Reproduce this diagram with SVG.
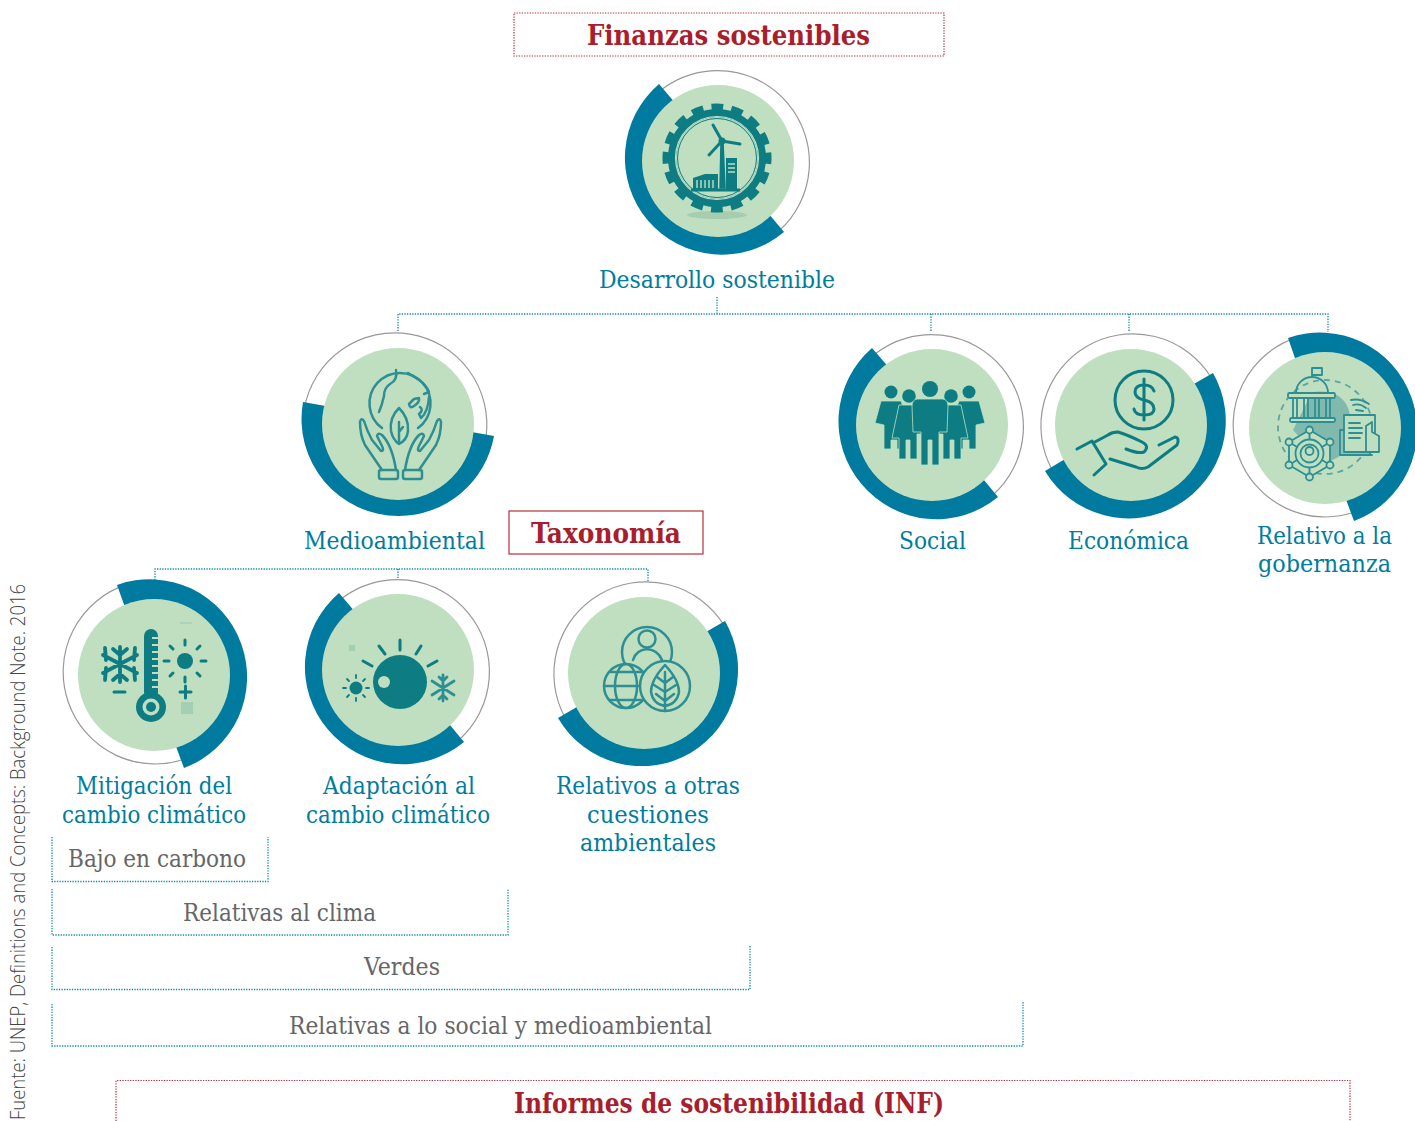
<svg xmlns="http://www.w3.org/2000/svg" width="1415" height="1121" viewBox="0 0 1415 1121">
<style>
.t{font-family:"DejaVu Serif Condensed","DejaVu Serif",serif;font-stretch:condensed;font-size:24px;fill:#007c9e}
.g{font-family:"DejaVu Serif Condensed","DejaVu Serif",serif;font-stretch:condensed;font-size:24px;fill:#666}
.h{font-family:"DejaVu Serif Condensed","DejaVu Serif",serif;font-stretch:condensed;font-weight:bold;font-size:27px;fill:#a91e2c}
.s{font-family:"Open Sans","Noto Sans",sans-serif;font-weight:300;font-size:20px;fill:#444}
.ring{fill:none;stroke:#999;stroke-width:1.200}
.pie{fill:#007a9f}
.disc{fill:#bfdfc0}
.ln{fill:none;stroke:#2f8f93;stroke-width:2.500;stroke-linecap:round;stroke-linejoin:round}
.ld{fill:none;stroke:#0b7c83;stroke-width:3;stroke-linecap:round;stroke-linejoin:round}
.f{fill:#0b7c83}
.p{fill:#0b7c83;stroke:#bfdfc0;stroke-width:0.800}
.dot{fill:none;stroke:#0f8aa8;stroke-width:1.300;stroke-dasharray:1.300 1.300}
.red{fill:none;stroke:#b5303a;stroke-width:1.200;stroke-dasharray:1.300 1.300}
</style>
<defs><filter id="b" x="-10%" y="-10%" width="120%" height="120%"><feGaussianBlur stdDeviation="0.5"/></filter></defs>

<g id="connectors">
<path class="dot" d="M398 331V314H1328V332M717 297V314M931 314V332M1129 314V332"/>
<path class="dot" d="M155 580V569H648V582M398 569V580"/>
</g>

<g id="box-finanzas"><rect class="red" x="514" y="13" width="430" height="43"/><text class="h" x="587" y="45" textLength="283" lengthAdjust="spacingAndGlyphs">Finanzas sostenibles</text></g>

<g id="node-desarrollo">
<path class="ring" d="M661.600 89.500A92 92 0 0 1 779.200 230.800"/>
<path class="pie" d="M722 158L659 84A97 97 0 0 0 647.700 220.300A97 97 0 0 0 784 232Z"/>
<circle class="disc" cx="718" cy="161" r="76"/>
<g filter="url(#b)">
<ellipse cx="717" cy="215" rx="30" ry="4" fill="#a6cdb0"/>
<circle cx="717" cy="158" r="50" fill="none" stroke="#0b7c83" stroke-width="9" stroke-dasharray="11.500 8.130" stroke-dashoffset="5.750"/>
<circle cx="717" cy="158" r="45" fill="none" stroke="#0b7c83" stroke-width="8"/>
<circle cx="717" cy="158" r="39.500" fill="none" stroke="#0b7c83" stroke-width="1"/>
<circle cx="717" cy="158" r="41.500" fill="none" stroke="#bfdfc0" stroke-width="1.200"/>
<path d="M720 188L721 142H723L725 188Z" class="f" stroke="#0b7c83" stroke-width="1.500"/>
<path class="ld" d="M722 141L713 125M722 141L740 144M722 141L709 155"/>
<circle class="f" cx="722" cy="141" r="3.500"/>
<path class="f" d="M693 178L705 174H718V190H693ZM726 158H737V190H726Z"/>
<path d="M697 180V188M701 180V188M705 180V188M709 180V188M713 180V188" stroke="#bfdfc0" stroke-width="1.400"/>
<path d="M728 164H735M728 168H735M728 172H735" stroke="#bfdfc0" stroke-width="1.500"/>
<path d="M691 190H740" stroke="#0b7c83" stroke-width="3"/>
</g>
<text class="t" x="599" y="288" textLength="236" lengthAdjust="spacingAndGlyphs">Desarrollo sostenible</text>
</g>

<g id="node-medioambiental">
<path class="ring" d="M304.400 408A92 92 0 0 1 485.900 438"/>
<path class="pie" d="M399 419L303 402A97 97 0 0 0 399 516A97 97 0 0 0 494 436Z"/>
<circle class="disc" cx="398" cy="424" r="76"/>
<g filter="url(#b)">
<path class="ln" d="M382 428A30.500 30.500 0 1 1 418 428"/>
<path class="ln" d="M396 370Q398 380 390 384Q384 388 384 396Q382 405 379 412M408 373L416 378Q426 384 429 392L424 394M429 397Q428 412 421 418L419 414Q424 410 420 407M409 404L414 399L419 398Q420 402 414 406Q410 409 409 404"/>
<path class="ln" d="M399 408Q389 418 391 431Q393 440 399 444Q407 440 408 431Q409 418 399 408ZM399 422V444M399 432L403 427"/>
<g id="hand"><path class="ln" d="M382 470L365 445Q360 435 360 422Q361 417 364 421Q367 431 372 440L381 451Q385 451 381 444L377 436Q378 432 382 435Q392 445 396 470"/><rect class="ln" x="379" y="470" width="19" height="9" rx="2"/></g>
<use href="#hand" transform="translate(801 0) scale(-1 1)"/>
</g>
<text class="t" x="304" y="549" textLength="181" lengthAdjust="spacingAndGlyphs">Medioambiental</text>
</g>

<g id="box-taxonomia"><rect x="509" y="511" width="194" height="43" fill="none" stroke="#b5303a" stroke-width="1.200"/><text class="h" x="531" y="543" textLength="150" lengthAdjust="spacingAndGlyphs">Taxonomía</text></g>

<g id="node-social">
<path class="ring" d="M875.600 353.500A92 92 0 0 1 993.200 494.800"/>
<path class="pie" d="M936 422L872 348A97 97 0 0 0 861.700 484.300A97 97 0 0 0 998 497Z"/>
<circle class="disc" cx="932" cy="425" r="76"/>
<g filter="url(#b)">
<g id="pf2"><circle class="f" cx="891" cy="392" r="6.500"/><path class="p" d="M881 401H901L908 420L905 425V449H897V440H891V449H884V425L875 423Z"/></g>
<use href="#pf2" transform="translate(1860 0) scale(-1 1)"/>
<g id="pf1"><circle class="f" cx="909" cy="396" r="6.800"/><path class="p" d="M899 405H919L925 434H917V459H910V440H906V459H899V438H892Z"/></g>
<use href="#pf1" transform="translate(1860 0) scale(-1 1)"/>
<circle class="f" cx="930" cy="389" r="8"/>
<path class="p" d="M917 399H943Q948 400 948 406L947 432H939V465H932V440H928V465H921V432H913L912 406Q912 400 917 399Z"/>
</g>
<text class="t" x="899" y="549" textLength="67" lengthAdjust="spacingAndGlyphs">Social</text>
</g>

<g id="node-economica">
<path class="ring" d="M1052.200 470A92 92 0 0 1 1211 377.200"/>
<path class="pie" d="M1129 421L1213 373A97 97 0 0 1 1177.500 505A97 97 0 0 1 1045 471Z"/>
<circle class="disc" cx="1131" cy="425" r="76"/>
<g filter="url(#b)">
<circle class="ld" cx="1144" cy="400" r="29"/>
<path class="ld" d="M1154 391Q1152 385 1144 385Q1135 385 1135 392Q1135 398 1144 400Q1154 402 1154 409Q1154 415 1144 415Q1135 415 1134 409M1144 379V420"/>
<path class="ld" d="M1077 449L1092 441L1106 464L1094 475M1093 443L1108 435Q1112 432 1118 432Q1128 435 1142 442Q1150 446 1144 452Q1138 454 1126 449M1159 445L1175 437Q1180 438 1177 445L1148 467Q1142 470 1136 467L1110 459"/>
</g>
<text class="t" x="1068" y="549" textLength="121" lengthAdjust="spacingAndGlyphs">Económica</text>
</g>

<g id="node-gobernanza">
<path class="ring" d="M1357 511.300A92 92 0 1 1 1297 337.400"/>
<path class="pie" d="M1320 430L1288 338A97 97 0 0 1 1411.200 396.800A97 97 0 0 1 1354 521Z"/>
<circle class="disc" cx="1325" cy="428" r="76"/>
<g filter="url(#b)">
<path d="M1312 392Q1345 388 1350 415V440Q1345 460 1322 462L1293 430Z" fill="#82b9ad"/>
<circle cx="1325" cy="427" r="47" fill="none" stroke="#5ba5a0" stroke-width="1.800" stroke-dasharray="6 5"/>
<g class="ln" style="stroke-width:1.800">
<path d="M1312 377V368H1322V375H1312M1296 393A16 16 0 0 1 1328 393"/>
<rect x="1288" y="393" width="47" height="5" rx="1.500" fill="#bfdfc0"/>
<rect x="1290" y="418" width="45" height="4" rx="1.500" fill="#bfdfc0"/>
<path d="M1293 398V418M1297 398V418M1304 398V418M1308 398V418M1315 398V418M1319 398V418M1326 398V418M1330 398V418"/>
<path d="M1309.500 430L1330 442V465L1309.500 477L1289 465V442Z" fill="#bfdfc0"/>
<path d="M1309.500 430V439M1330 442L1322 447M1330 465L1322 460M1309.500 477V468M1289 465L1297 460M1289 442L1297 447"/>
<circle cx="1309.500" cy="453.500" r="14"/>
<circle cx="1309.500" cy="453.500" r="9"/>
<circle cx="1309.500" cy="451" r="4"/>
<path d="M1351 400Q1360 398 1369 404M1353 405Q1360 403 1366 408M1356 410L1363 411"/>
<rect x="1340" y="430" width="30" height="25" fill="#8fc2b4"/>
<rect x="1344" y="415" width="31" height="37" fill="#bfdfc0"/>
<path d="M1349 423H1360M1349 428H1362M1349 433H1362M1349 438H1360M1340 455H1372"/>
<path d="M1366 426L1372 422V432L1379 436V452H1366Z" fill="#bfdfc0"/>
</g>
<g style="fill:#bfdfc0;stroke:#2f8f93;stroke-width:1.800"><circle cx="1309.500" cy="430" r="3.500"/><circle cx="1330" cy="442" r="3.500"/><circle cx="1330" cy="465" r="3.500"/><circle cx="1309.500" cy="477" r="3.500"/><circle cx="1289" cy="465" r="3.500"/><circle cx="1289" cy="442" r="3.500"/></g>
</g>
<text class="t" x="1257" y="544" textLength="135" lengthAdjust="spacingAndGlyphs">Relativo a la</text>
<text class="t" x="1258" y="572" textLength="133" lengthAdjust="spacingAndGlyphs">gobernanza</text>
</g>

<g id="node-mitigacion">
<path class="ring" d="M187 758.300A92 92 0 1 1 127 584.400"/>
<path class="pie" d="M150 677L117 585A97 97 0 0 1 241.200 643.800A97 97 0 0 1 184 768Z"/>
<circle class="disc" cx="154" cy="675" r="76"/>
<g filter="url(#b)">
<rect class="f" x="144" y="629" width="14" height="70" rx="7"/>
<circle class="f" cx="151" cy="707" r="15"/>
<circle cx="151" cy="707" r="8.500" fill="#bfdfc0"/><circle class="f" cx="151" cy="707" r="5"/>
<path d="M152 638H159M152 645H159M152 652H159M152 659H159M152 666H159M152 673H159M152 680H159M152 687H159" stroke="#bfdfc0" stroke-width="2"/>
<path class="ld" style="stroke-width:3.800" d="M120 647V682M103 655L137 673M137 655L103 673M113 649L120 655L127 649M113 680L120 674L127 680M105 648L106 660M135 648L134 660M105 680L106 668M135 680L134 668"/>
<path class="ld" d="M114 692H125M180 692H191M185.500 686V698"/>
<circle class="f" cx="185" cy="661" r="8"/>
<path class="ld" d="M185 640V645M185 677V682M164 661H169M201 661H206M170 646L173 649M200 646L197 649M170 676L173 673M200 676L197 673"/>
<rect x="181" y="702" width="12" height="12" fill="#a5cfb5"/>
<path d="M180 623H192" stroke="#a5cfb5" stroke-width="1.500"/>
</g>
<text class="t" x="76" y="794" textLength="156" lengthAdjust="spacingAndGlyphs">Mitigación del</text>
<text class="t" x="62" y="823" textLength="184" lengthAdjust="spacingAndGlyphs">cambio climático</text>
</g>

<g id="node-adaptacion">
<path class="ring" d="M341.600 598.500A92 92 0 0 1 459.200 739.800"/>
<path class="pie" d="M402 667L339 593A97 97 0 0 0 327.700 729.300A97 97 0 0 0 464 742Z"/>
<circle class="disc" cx="398" cy="670" r="76"/>
<g filter="url(#b)">
<circle class="f" cx="400" cy="682" r="27"/>
<circle cx="384" cy="682" r="6" fill="#bfdfc0"/>
<path class="ld" d="M400 640V650M379 646L385 654M421 646L416 654M363 661L372 666M437 661L428 666"/>
<circle class="f" cx="356" cy="688" r="6.500"/>
<path class="ld" style="stroke-width:1.800" d="M356 675V678M356 698V701M343 688H346M366 688H369M347 679L349 681M365 679L363 681M347 697L349 695M365 697L363 695"/>
<path class="ld" style="stroke-width:2.800;stroke:#2f8f93" d="M443 675V701M432 681L454 695M454 681L432 695M439 677L443 681L447 677M439 699L443 695L447 699"/>
<rect x="349" y="645" width="6" height="6" fill="#a5cfb5"/>
</g>
<text class="t" x="323" y="794" textLength="152" lengthAdjust="spacingAndGlyphs">Adaptación al</text>
<text class="t" x="306" y="823" textLength="184" lengthAdjust="spacingAndGlyphs">cambio climático</text>
</g>

<g id="node-relativos">
<path class="ring" d="M565.200 718A92 92 0 0 1 724 625.200"/>
<path class="pie" d="M642 669L725 621A97 97 0 0 1 690.500 753A97 97 0 0 1 558 718Z"/>
<circle class="disc" cx="644" cy="673" r="76"/>
<g filter="url(#b)">
<circle class="ln" cx="647" cy="652" r="25"/>
<circle class="ln" cx="647" cy="639" r="8.500"/>
<path class="ln" d="M633 660Q636 650 647 649Q658 650 662 660"/>
<circle class="ln" cx="626" cy="686" r="22" style="fill:#bfdfc0"/>
<ellipse class="ln" cx="626" cy="686" rx="11" ry="22"/>
<path class="ln" d="M604 686H648M609 672H643M609 700H643"/>
<circle class="ln" cx="665" cy="686" r="25" style="fill:#bfdfc0"/>
<path class="ln" d="M665 665Q651 680 651 692Q653 704 665 706Q677 704 679 692Q679 680 665 665ZM665 672V711M665 683L657 677M665 683L673 677M665 692L654 685M665 692L676 685M665 701L656 694M665 701L674 694"/>
</g>
<text class="t" x="556" y="794" textLength="184" lengthAdjust="spacingAndGlyphs">Relativos a otras</text>
<text class="t" x="587" y="823" textLength="122" lengthAdjust="spacingAndGlyphs">cuestiones</text>
<text class="t" x="580" y="851" textLength="136" lengthAdjust="spacingAndGlyphs">ambientales</text>
</g>

<g id="bracket-bajo"><path class="dot" d="M52 837V881.500H268V837"/><text class="g" x="68" y="867" textLength="178" lengthAdjust="spacingAndGlyphs">Bajo en carbono</text></g>
<g id="bracket-clima"><path class="dot" d="M52 889V935H508V889"/><text class="g" x="183" y="921" textLength="193" lengthAdjust="spacingAndGlyphs">Relativas al clima</text></g>
<g id="bracket-verdes"><path class="dot" d="M52 947V989.500H750V945"/><text class="g" x="364" y="975" textLength="76" lengthAdjust="spacingAndGlyphs">Verdes</text></g>
<g id="bracket-social"><path class="dot" d="M52 1004V1046H1023V1001"/><text class="g" x="289" y="1034" textLength="423" lengthAdjust="spacingAndGlyphs">Relativas a lo social y medioambiental</text></g>

<g id="box-informes"><path class="red" d="M116 1121V1080.500H1350V1121"/><text class="h" x="514" y="1113" textLength="430" lengthAdjust="spacingAndGlyphs">Informes de sostenibilidad (INF)</text></g>

<g id="source"><text class="s" transform="translate(25 1120) rotate(-90)" textLength="536" lengthAdjust="spacingAndGlyphs">Fuente: UNEP, Definitions and Concepts: Background Note. 2016</text></g>
</svg>
